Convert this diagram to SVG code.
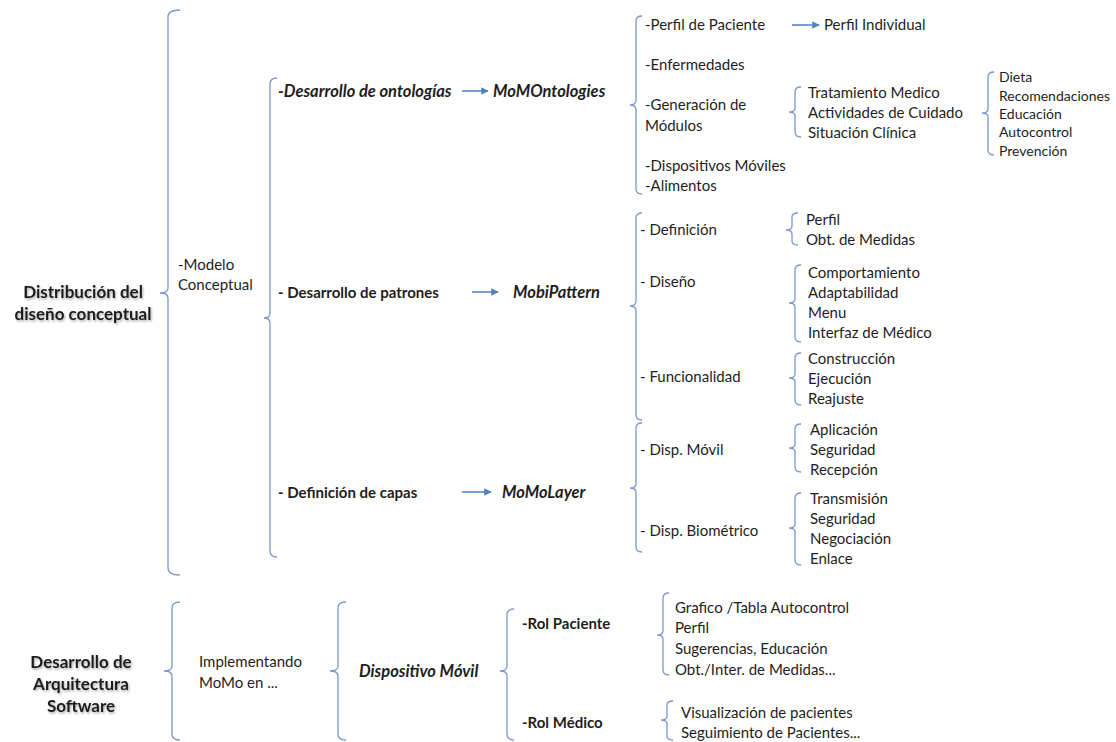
<svg xmlns="http://www.w3.org/2000/svg" width="1116" height="742" viewBox="0 0 1116 742">
  <style>
    .brace { fill: none; stroke: #7a98c8; stroke-width: 1.3; }
    .arrow { fill: none; stroke: #4f81bd; stroke-width: 1.5; marker-end: url(#head); }
    text { font-family: Lato, "Liberation Sans", sans-serif; font-size: 15px; fill: #1e1e1e; }
    .b { font-weight: bold; }
    .bi { font-weight: bold; font-style: italic; font-size: 16.5px; }
    .title { font-weight: bold; font-size: 17px; text-anchor: middle; filter: url(#shadow); }
    .sm { font-size: 14px; }
  </style>
  <defs>
    <marker id="head" viewBox="0 0 10 10" refX="9" refY="5" markerWidth="5" markerHeight="5" orient="auto">
      <path d="M0,0 L10,5 L0,10 Z" fill="#4f81bd"/>
    </marker>
    <filter id="shadow" x="-10%" y="-30%" width="120%" height="160%">
      <feDropShadow dx="1" dy="1.5" stdDeviation="1.2" flood-color="#000" flood-opacity="0.35"/>
    </filter>
  </defs>

  <!-- brackets and arrows -->
  <g id="connectors">
    <path class="brace" d="M180,10 Q168,10 168,17 L168,288 Q168,293 160,293 Q168,293 168,298 L168,568 Q168,575 180,575"/>
    <path class="brace" d="M277,78 Q270,78 270,84 L270,313 Q270,318 264,318 Q270,318 270,323 L270,551 Q270,557 277,557"/>
    <path class="brace" d="M642,16 Q636,16 636,21 L636,100 Q636,105 630,105 Q636,105 636,110 L636,189 Q636,194 642,194"/>
    <path class="brace" d="M801,87 Q795,87 795,92 L795,108 Q795,112 789,112 Q795,112 795,116 L795,132 Q795,137 801,137"/>
    <path class="brace" d="M994,72 Q988,72 988,77 L988,109 Q988,113 982,113 Q988,113 988,117 L988,150 Q988,155 994,155"/>
    <path class="brace" d="M642,213 Q636,213 636,218 L636,301 Q636,306 630,306 Q636,306 636,311 L636,415 Q636,420 642,420"/>
    <path class="brace" d="M798,213 Q792,213 792,217 L792,226 Q792,230 786,230 Q792,230 792,234 L792,241 Q792,245 798,245"/>
    <path class="brace" d="M801,265 Q795,265 795,270 L795,299 Q795,303 789,303 Q795,303 795,307 L795,337 Q795,342 801,342"/>
    <path class="brace" d="M801,353 Q795,353 795,358 L795,374 Q795,378 789,378 Q795,378 795,382 L795,400 Q795,405 801,405"/>
    <path class="brace" d="M642,423 Q636,423 636,428 L636,484 Q636,488 630,488 Q636,488 636,492 L636,547 Q636,552 642,552"/>
    <path class="brace" d="M801,424 Q795,424 795,429 L795,444 Q795,448 789,448 Q795,448 795,452 L795,467 Q795,472 801,472"/>
    <path class="brace" d="M801,493 Q795,493 795,498 L795,524 Q795,528 789,528 Q795,528 795,532 L795,560 Q795,565 801,565"/>
    <path class="brace" d="M180,602 Q172,602 172,608 L172,666 Q172,671 164,671 Q172,671 172,676 L172,734 Q172,740 180,740"/>
    <path class="brace" d="M346,602 Q338,602 338,608 L338,666 Q338,671 330,671 Q338,671 338,676 L338,734 Q338,740 346,740"/>
    <path class="brace" d="M514,609 Q507,609 507,615 L507,666 Q507,671 500,671 Q507,671 507,676 L507,734 Q507,740 514,740"/>
    <path class="brace" d="M669,593 Q663,593 663,598 L663,631 Q663,635 657,635 Q663,635 663,639 L663,670 Q663,675 669,675"/>
    <path class="brace" d="M673,701 Q667,701 667,705 L667,716 Q667,720 661,720 Q667,720 667,724 L667,736 Q667,740 673,740"/>
    <path class="arrow" d="M462,91 L488,91"/>
    <path class="arrow" d="M472,292 L498,292"/>
    <path class="arrow" d="M462,492 L491,492"/>
    <path class="arrow" d="M792,25 L819,25"/>
  </g>

  <g id="titulo-distribucion">
    <text class="title" x="83" y="298">Distribución del</text>
    <text class="title" x="83" y="320">diseño conceptual</text>
  </g>
  <g id="modelo-conceptual">
    <text x="178" y="270">-Modelo</text>
    <text x="178" y="290">Conceptual</text>
  </g>

  <g id="ontologias">
    <text class="bi" x="278" y="97">-Desarrollo de ontologías</text>
    <text class="bi" x="493" y="97">MoMOntologies</text>
  </g>
  <g id="ontologias-items">
    <text x="645" y="30">-Perfil de Paciente</text>
    <text x="645" y="70">-Enfermedades</text>
    <text x="645" y="110">-Generación de</text>
    <text x="645" y="131">Módulos</text>
    <text x="645" y="171">-Dispositivos Móviles</text>
    <text x="645" y="191">-Alimentos</text>
  </g>
  <g id="perfil-individual">
    <text x="824" y="30">Perfil Individual</text>
  </g>
  <g id="modulos">
    <text x="808" y="98">Tratamiento Medico</text>
    <text x="808" y="118">Actividades de Cuidado</text>
    <text x="808" y="138">Situación Clínica</text>
  </g>
  <g id="cuidado">
    <text class="sm" x="999" y="82">Dieta</text>
    <text class="sm" x="999" y="101">Recomendaciones</text>
    <text class="sm" x="999" y="119">Educación</text>
    <text class="sm" x="999" y="137">Autocontrol</text>
    <text class="sm" x="999" y="156">Prevención</text>
  </g>

  <g id="patrones">
    <text class="b" x="278" y="298">- Desarrollo de patrones</text>
    <text class="bi" x="513" y="298">MobiPattern</text>
  </g>
  <g id="patrones-items">
    <text x="640" y="235">- Definición</text>
    <text x="640" y="287">- Diseño</text>
    <text x="640" y="382">- Funcionalidad</text>
  </g>
  <g id="definicion">
    <text x="806" y="225">Perfil</text>
    <text x="806" y="245">Obt. de Medidas</text>
  </g>
  <g id="diseno">
    <text x="808" y="278">Comportamiento</text>
    <text x="808" y="298">Adaptabilidad</text>
    <text x="808" y="318">Menu</text>
    <text x="808" y="338">Interfaz de Médico</text>
  </g>
  <g id="funcionalidad">
    <text x="808" y="364">Construcción</text>
    <text x="808" y="384">Ejecución</text>
    <text x="808" y="404">Reajuste</text>
  </g>

  <g id="capas">
    <text class="b" x="278" y="498">- Definición de capas</text>
    <text class="bi" x="502" y="498">MoMoLayer</text>
  </g>
  <g id="capas-items">
    <text x="640" y="455">- Disp. Móvil</text>
    <text x="640" y="536">- Disp. Biométrico</text>
  </g>
  <g id="disp-movil">
    <text x="810" y="435">Aplicación</text>
    <text x="810" y="455">Seguridad</text>
    <text x="810" y="475">Recepción</text>
  </g>
  <g id="disp-biometrico">
    <text x="810" y="504">Transmisión</text>
    <text x="810" y="524">Seguridad</text>
    <text x="810" y="544">Negociación</text>
    <text x="810" y="564">Enlace</text>
  </g>

  <g id="titulo-arquitectura">
    <text class="title" x="81" y="668">Desarrollo de</text>
    <text class="title" x="81" y="690">Arquitectura</text>
    <text class="title" x="81" y="712">Software</text>
  </g>
  <g id="implementando">
    <text x="199" y="667">Implementando</text>
    <text x="199" y="688">MoMo en ...</text>
  </g>
  <g id="dispositivo-movil">
    <text class="bi" x="359" y="677">Dispositivo Móvil</text>
  </g>
  <g id="roles">
    <text class="b" x="522" y="629">-Rol Paciente</text>
    <text class="b" x="522" y="728">-Rol Médico</text>
  </g>
  <g id="rol-paciente">
    <text x="675" y="613">Grafico /Tabla Autocontrol</text>
    <text x="675" y="633">Perfil</text>
    <text x="675" y="654">Sugerencias, Educación</text>
    <text x="675" y="675">Obt./Inter. de Medidas...</text>
  </g>
  <g id="rol-medico">
    <text x="681" y="718">Visualización de pacientes</text>
    <text x="681" y="738">Seguimiento de Pacientes...</text>
  </g>
</svg>
